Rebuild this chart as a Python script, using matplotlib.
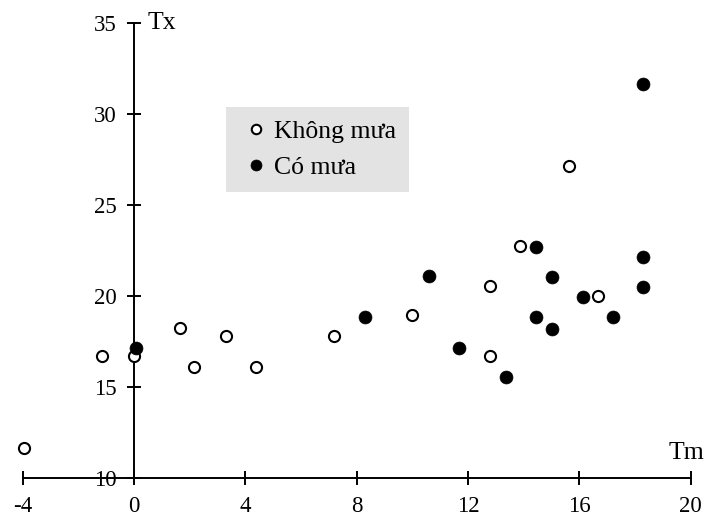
import matplotlib
matplotlib.use('Agg')
import matplotlib.pyplot as plt

plt.rcParams['font.family'] = ['Liberation Serif', 'DejaVu Serif']
plt.rcParams['axes.unicode_minus'] = False

# Không mưa (no rain) - open circles
dry_tm = [-3.96, -1.16, 0.0, 1.65, 2.17, 3.31, 4.38, 7.2, 9.98, 12.79, 12.79, 13.87, 15.61, 16.68]
dry_tx = [11.65, 16.71, 16.68, 18.25, 16.07, 17.81, 16.07, 17.81, 18.93, 20.56, 16.71, 22.76, 27.16, 20.01]

# Có mưa (rain) - filled circles
wet_tm = [0.07, 8.3, 10.61, 11.69, 13.36, 14.43, 14.43, 15.01, 15.01, 16.14, 17.22, 18.3, 18.3, 18.3]
wet_tx = [17.15, 18.86, 21.09, 17.12, 15.56, 22.7, 18.86, 21.06, 18.18, 19.96, 18.86, 31.64, 22.16, 20.5]

x_ticks = [-4, 0, 4, 8, 12, 16, 20]
y_ticks = [10, 15, 20, 25, 30, 35]

fig = plt.figure(figsize=(7.06, 5.18), dpi=100)
ax = fig.add_axes([22.7 / 706, 1 - 477.7 / 518, 668.0 / 706, 454.4 / 518])

ax.plot(dry_tm, dry_tx, 'o', ms=8, mfc='white', mec='black', mew=1.5, ls='none',
        label='Không mưa', zorder=3, clip_on=False)
ax.plot(wet_tm, wet_tx, 'o', ms=9.3, mfc='black', mec='black', mew=0.5, ls='none',
        label='Có mưa', zorder=4, clip_on=False)

ax.set_xlim(-4, 20)
ax.set_ylim(10, 35)
ax.set_xticks(x_ticks)
ax.set_yticks(y_ticks)

for side in ['top', 'right']:
    ax.spines[side].set_visible(False)
ax.spines['left'].set_position(('data', 0))
ax.spines['left'].set_linewidth(1.4)
ax.spines['bottom'].set_linewidth(1.4)
ax.tick_params(axis='both', direction='inout', length=9.5, width=1.4, labelsize=16.5)
ax.tick_params(axis='x', pad=8.5)
ax.tick_params(axis='y', pad=7.5)

# axis names at the ends of the axes
ax.annotate('Tx', xy=(0, 35), xytext=(10, 0), textcoords='offset points',
            fontsize=18.5, ha='left', va='center')
ax.annotate('Tm', xy=(20, 10), xytext=(10, 13.5), textcoords='offset points',
            fontsize=18.5, ha='right', va='baseline')

leg = ax.legend(loc='upper left', bbox_to_anchor=(226 / 706, 1 - 107 / 518),
                bbox_transform=fig.transFigure, fontsize=18.5, frameon=True,
                fancybox=False, handlelength=1.3, handletextpad=0.05,
                borderpad=0.5, labelspacing=0.52, markerscale=0.85,
                borderaxespad=0)
leg.get_frame().set_facecolor('#e3e3e3')
leg.get_frame().set_edgecolor('none')
leg.get_frame().set_alpha(1)

fig.savefig('out.png', dpi=100)
